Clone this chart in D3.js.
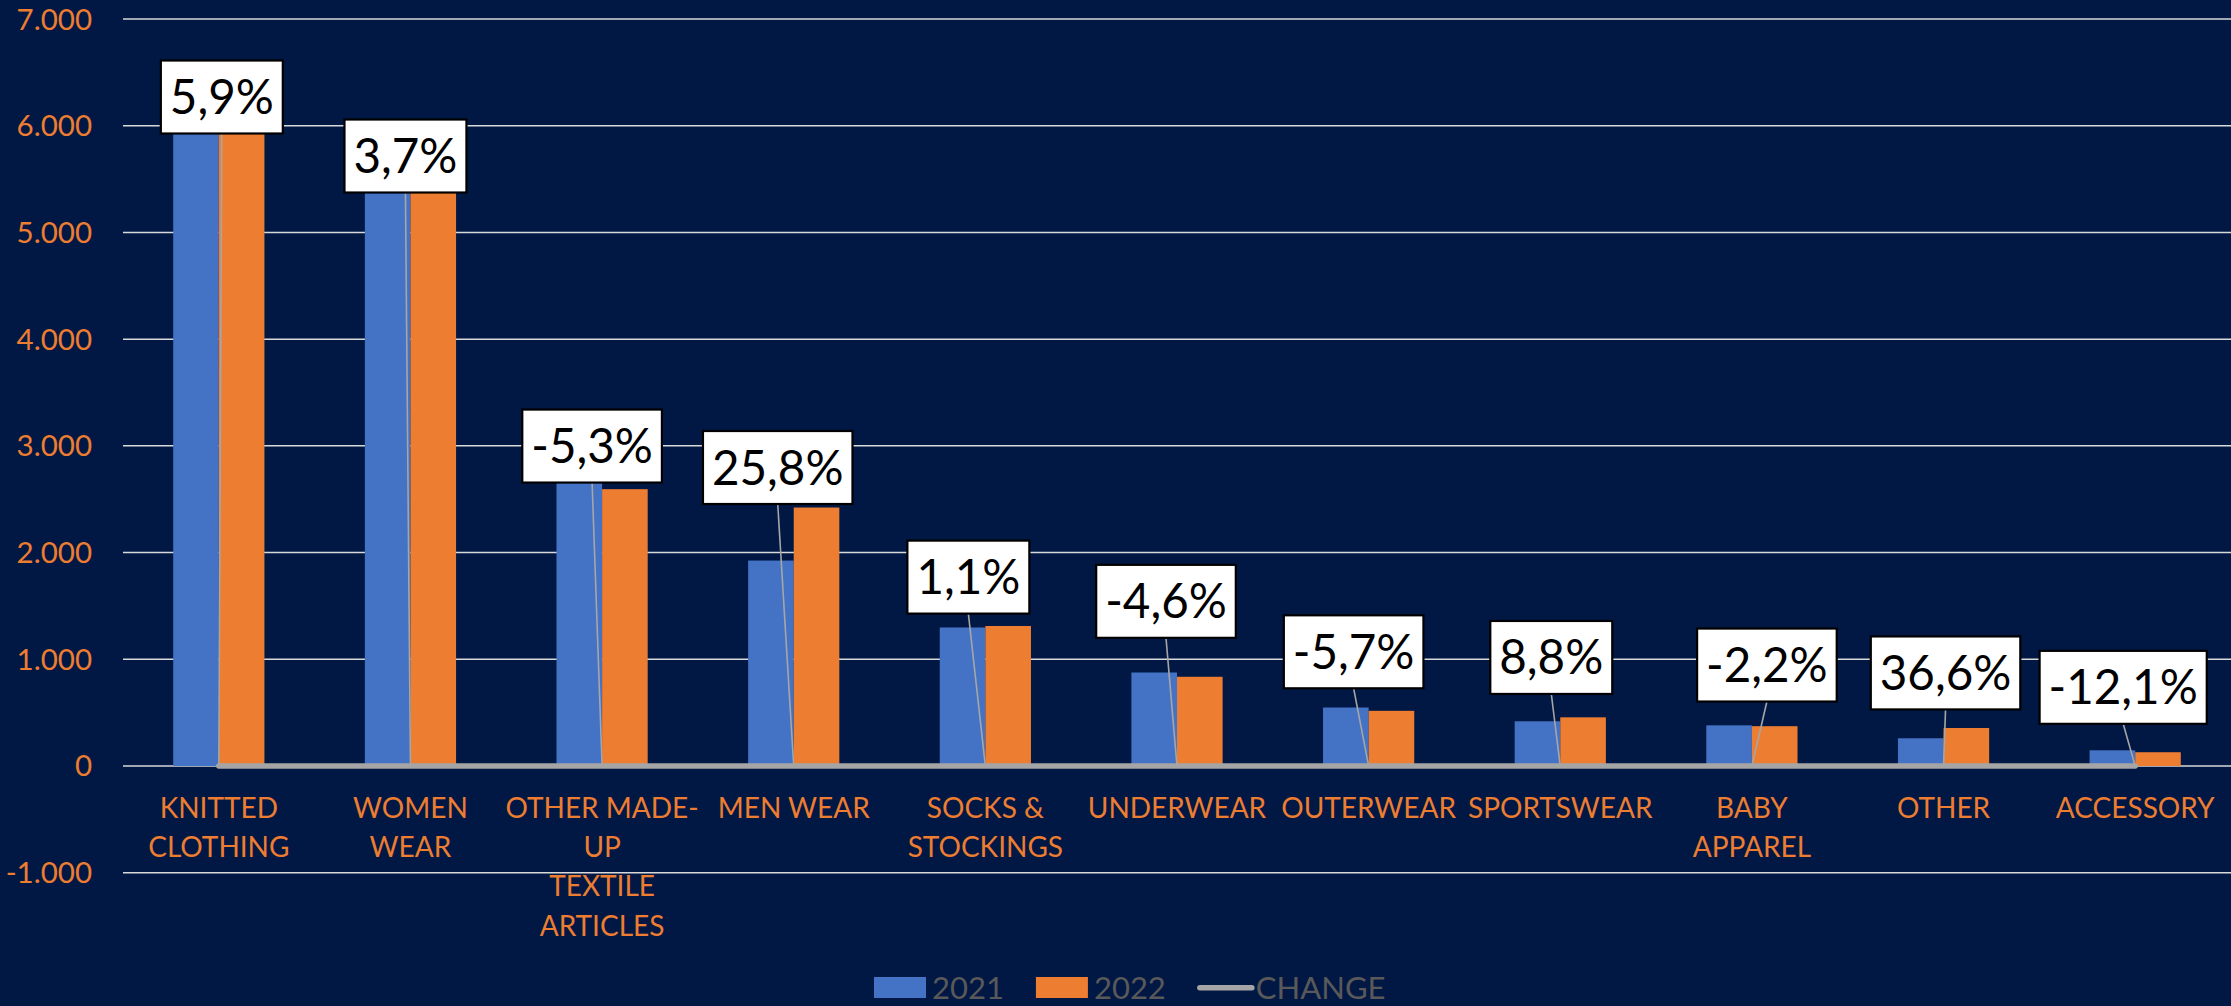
<!DOCTYPE html>
<html>
<head>
<meta charset="utf-8">
<script src="https://cdn.jsdelivr.net/npm/d3@7"></script>
<style>
  html, body { margin: 0; padding: 0; background: #011845; }
  svg { display: block; }
</style>
</head>
<body>
<div id="d3-container"></div>
<script>
/**
 * DATA
 * */
const categories = ["KNITTED CLOTHING", "WOMEN WEAR", "OTHER MADE-UP TEXTILE ARTICLES", "MEN WEAR",
  "SOCKS & STOCKINGS", "UNDERWEAR", "OUTERWEAR", "SPORTSWEAR", "BABY APPAREL", "OTHER", "ACCESSORY"];
// tick labels, wrapped the way the original wraps them
const categoryLines = [["KNITTED", "CLOTHING"], ["WOMEN", "WEAR"], ["OTHER MADE-", "UP", "TEXTILE", "ARTICLES"],
  ["MEN WEAR"], ["SOCKS &", "STOCKINGS"], ["UNDERWEAR"], ["OUTERWEAR"], ["SPORTSWEAR"], ["BABY", "APPAREL"],
  ["OTHER"], ["ACCESSORY"]];
const values2021 = [5950, 5450, 2740, 1925, 1298, 876, 548, 419, 381, 260, 147];
const values2022 = [6300, 5650, 2594, 2422, 1312, 836, 517, 456, 373, 356, 129];
const change = [0.059, 0.037, -0.053, 0.258, 0.011, -0.046, -0.057, 0.088, -0.022, 0.366, -0.121];
const series = ["2021", "2022"];
const yTicks = [-1000, 0, 1000, 2000, 3000, 4000, 5000, 6000, 7000];

// where the (hand placed) change labels sit: px offset from the category centre,
// and the axis value the bottom of each box rests on
const labelDx = [3, -5, -10, -16, -17, -11, -15, -9, 15, 2, -12];
const labelAt = [5927, 5374, 2656, 2455, 1428, 1201, 728, 675, 604, 530, 395];

/**
 * CONSTANTS
 * */
const width = 2231, height = 1006;
const FONT = "Lato, 'Open Sans', sans-serif";
const colors = { "2021": "#4472C4", "2022": "#ED7D31", change: "#A5A5A5" };
const axisColor = "#ED7D31";

const locale = d3.formatLocale({ decimal: ",", thousands: ".", grouping: [3], currency: ["", ""], minus: "-" });
const fmtNum = locale.format(",");
const fmtPct = locale.format(".1%");

const svg = d3.select("#d3-container").append("svg")
  .attr("width", width)
  .attr("height", height)
  .style("font-family", FONT);

svg.append("rect").attr("width", width).attr("height", height).attr("fill", "#011845");

const x = d3.scaleBand()
  .domain(categories)
  .range([123, 2231])
  .paddingInner(0.524)
  .paddingOuter(0.262);

const x1 = d3.scaleBand().domain(series).range([0, x.bandwidth()]);

const y = d3.scaleLinear().domain([-1000, 7000]).range([872.7, 19]);

const cx = d => x(d) + x.bandwidth() / 2;

// gridlines
svg.append("g")
  .selectAll("line")
  .data(yTicks)
  .join("line")
  .attr("x1", 123)
  .attr("x2", width)
  .attr("y1", d => y(d))
  .attr("y2", d => y(d))
  .attr("stroke", "#D9D9D9")
  .attr("stroke-width", 1.5);

// y tick labels
svg.append("g")
  .selectAll("text")
  .data(yTicks)
  .join("text")
  .attr("x", 92)
  .attr("y", d => y(d) + 10.5)
  .attr("text-anchor", "end")
  .attr("font-size", 29.5)
  .attr("fill", axisColor)
  .text(d => fmtNum(d));

// bars
const rows = categories.map((c, i) => ({ cat: c, i, vals: [values2021[i], values2022[i]] }));

const groups = svg.append("g")
  .selectAll("g")
  .data(rows)
  .join("g")
  .attr("transform", d => `translate(${x(d.cat)},0)`);

groups.selectAll("rect")
  .data(d => series.map((s, k) => ({ s, v: d.vals[k] })))
  .join("rect")
  .attr("x", d => x1(d.s))
  .attr("width", x1.bandwidth())
  .attr("y", d => y(d.v))
  .attr("height", d => y(0) - y(d.v))
  .attr("fill", d => colors[d.s]);

// category labels
svg.append("g")
  .selectAll("text")
  .data(rows)
  .join("text")
  .attr("text-anchor", "middle")
  .attr("font-size", 28)
  .attr("fill", axisColor)
  .each(function (d) {
    d3.select(this).selectAll("tspan")
      .data(categoryLines[d.i])
      .join("tspan")
      .attr("x", cx(d.cat))
      .attr("y", (t, k) => y(0) + 51.6 + k * 39.4)
      .text(t => t);
  });

// CHANGE line (plotted on the same axis, so it hugs zero)
const line = d3.line()
  .x((d, i) => cx(categories[i]))
  .y(d => y(d));

svg.append("path")
  .datum(change)
  .attr("d", line)
  .attr("fill", "none")
  .attr("stroke", colors.change)
  .attr("stroke-width", 5.5)
  .attr("stroke-linecap", "round")
  .attr("stroke-linejoin", "round");

// leader lines + label boxes
const boxH = 73;
const labels = svg.append("g")
  .selectAll("g")
  .data(rows)
  .join("g");

labels.append("line")
  .attr("x1", d => cx(d.cat))
  .attr("y1", d => y(change[d.i]))
  .attr("x2", d => cx(d.cat) + labelDx[d.i])
  .attr("y2", d => y(labelAt[d.i]))
  .attr("stroke", "#A6A6A6")
  .attr("stroke-width", 1.6);

labels.each(function (d) {
  const g = d3.select(this);
  const bx = cx(d.cat) + labelDx[d.i];
  const bottom = y(labelAt[d.i]);
  const txt = g.append("text")
    .attr("x", bx)
    .attr("y", bottom - boxH / 2 + 17)
    .attr("text-anchor", "middle")
    .attr("font-size", 47.5)
    .attr("fill", "#000")
    .text(fmtPct(change[d.i]));
  const w = txt.node().getComputedTextLength() + 18;
  g.insert("rect", "text")
    .attr("x", bx - w / 2)
    .attr("y", bottom - boxH)
    .attr("width", w)
    .attr("height", boxH)
    .attr("fill", "#fff")
    .attr("stroke", "#000")
    .attr("stroke-width", 2.2);
});

// legend
const legend = svg.append("g").attr("font-size", 31).attr("fill", "#595959");
let lx = 874;
const legendItems = [
  { name: "2021", type: "rect", color: colors["2021"] },
  { name: "2022", type: "rect", color: colors["2022"] },
  { name: "CHANGE", type: "line", color: colors.change }
];
legendItems.forEach(item => {
  if (item.type === "rect") {
    legend.append("rect")
      .attr("x", lx).attr("y", 977)
      .attr("width", 52).attr("height", 21)
      .attr("fill", item.color);
  } else {
    legend.append("line")
      .attr("x1", lx + 2).attr("x2", lx + 54)
      .attr("y1", 987.7).attr("y2", 987.7)
      .attr("stroke", item.color)
      .attr("stroke-width", 5.5)
      .attr("stroke-linecap", "round");
  }
  const t = legend.append("text")
    .attr("x", lx + 58)
    .attr("y", 998.5)
    .text(item.name);
  lx += 58 + t.node().getComputedTextLength() + 32;
});
</script>
</body>
</html>
